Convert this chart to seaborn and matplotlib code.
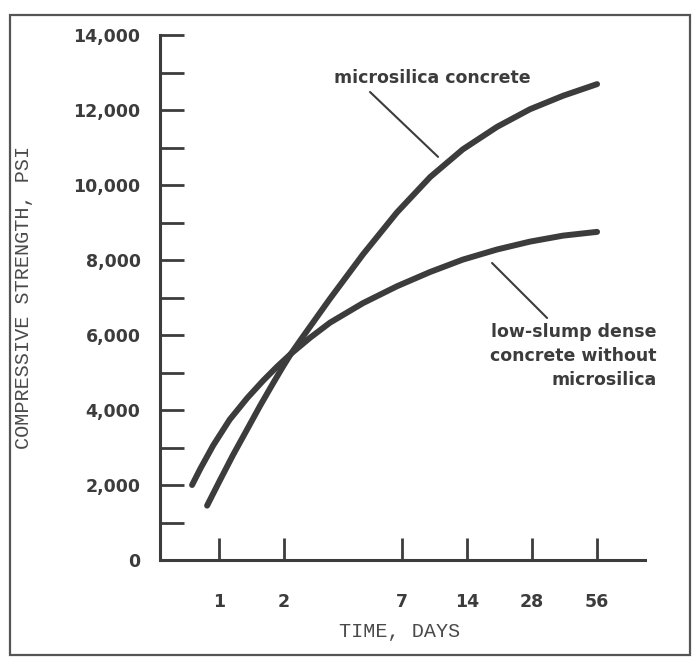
import matplotlib
matplotlib.use("Agg")
import matplotlib.pyplot as plt
from matplotlib.patches import Rectangle
from matplotlib.ticker import FixedLocator, NullLocator, MultipleLocator
import seaborn as sns
import pandas as pd

# ---- data (days, psi) ----
micro_days = [0.88, 1.01, 1.16, 1.35, 1.55, 1.78, 1.98, 2.15, 2.37, 2.64, 3.26,
              4.63, 6.65, 9.46, 13.4, 19.3, 27.4, 39.0, 56]
micro_psi = [1450, 2130, 2800, 3490, 4120, 4720, 5170, 5500, 5850, 6230, 6970,
             8150, 9270, 10210, 10950, 11550, 12020, 12380, 12690]

plain_days = [0.75, 0.82, 0.94, 1.12, 1.35, 1.60, 1.85, 2.15, 2.64, 3.26,
              4.63, 6.65, 9.46, 13.4, 19.3, 27.4, 39.0, 56]
plain_psi = [2000, 2440, 3060, 3745, 4320, 4785, 5150, 5500, 5930, 6330,
             6850, 7300, 7680, 8010, 8280, 8490, 8650, 8750]

x_ticks = [1, 2, 7, 14, 28, 56]
x_tick_labels = ["1", "2", "7", "14", "28", "56"]
y_ticks = [0, 2000, 4000, 6000, 8000, 10000, 12000, 14000]
y_tick_labels = ["0", "2,000", "4,000", "6,000", "8,000", "10,000", "12,000", "14,000"]

label_micro = "microsilica concrete"
label_plain = "low-slump dense\nconcrete without\nmicrosilica"

df = pd.concat([
    pd.DataFrame({"days": micro_days, "psi": micro_psi, "series": label_micro}),
    pd.DataFrame({"days": plain_days, "psi": plain_psi, "series": label_plain}),
])

sns.set_theme(style="white")
plt.rcParams["font.family"] = ["DejaVu Sans"]

ink = "#3c3c3c"
fig = plt.figure(figsize=(6.99, 6.64), dpi=100)
fig.patch.set_facecolor("white")
ax = fig.add_axes([160/699, 1-560/664, (645-160)/699, (560-35)/664])
ax.set_facecolor("white")

sns.lineplot(data=df, x="days", y="psi", hue="series",
             palette={label_micro: ink, label_plain: ink},
             legend=False, ax=ax, linewidth=4.3, sort=True,
             solid_capstyle="round", solid_joinstyle="round")

ax.set_xscale("log", base=2)
ax.set_xlim(0.533, 93.3)
ax.set_ylim(0, 14000)

ax.xaxis.set_major_locator(FixedLocator(x_ticks))
ax.xaxis.set_minor_locator(NullLocator())
ax.set_xticklabels(x_tick_labels)
ax.set_yticks(y_ticks)
ax.set_yticklabels(y_tick_labels)
ax.yaxis.set_minor_locator(MultipleLocator(1000))

for s in ["top", "right"]:
    ax.spines[s].set_visible(False)
for s in ["left", "bottom"]:
    ax.spines[s].set_color(ink)
    ax.spines[s].set_linewidth(2.2)

ax.tick_params(axis="y", which="both", direction="in", length=17, width=2.0,
               color=ink, left=True, pad=14, labelsize=12.5, labelcolor=ink)
ax.tick_params(axis="x", which="major", direction="in", length=16, width=2.0,
               color=ink, bottom=True, pad=24, labelsize=12.5, labelcolor=ink)
for lab in ax.get_xticklabels() + ax.get_yticklabels():
    lab.set_fontweight("bold")

ax.set_xlabel("TIME, DAYS", family=["Liberation Mono", "DejaVu Sans Mono"],
              fontsize=14.5, color="#4a4a4a")
ax.set_ylabel("COMPRESSIVE STRENGTH, PSI", family=["Liberation Mono", "DejaVu Sans Mono"],
              fontsize=14.5, color="#4a4a4a")
ax.xaxis.set_label_coords(0.495, -0.118)
ax.yaxis.set_label_coords(-0.262, 0.5)

# annotations
ax.annotate(label_micro, xy=(10.3, 10750), xytext=(9.66, 12850),
            ha="center", va="center", fontsize=12.5, fontweight="bold", color=ink,
            annotation_clip=False)
ax.plot([4.99, 10.3], [12480, 10750], color=ink, lw=1.5)
ax.annotate(label_plain, xy=(32.9, 6450), xytext=(106, 5440),
            ha="right", va="center", multialignment="right", fontsize=12.5,
            fontweight="bold", color=ink, linespacing=1.45, annotation_clip=False)
ax.plot([18.3, 32.9], [7920, 6453], color=ink, lw=1.5)

# scanned-page frame
fig.add_artist(Rectangle((10/699, 1-655/664), (690-10)/699, (655-15)/664,
                         transform=fig.transFigure, fill=False, ec="#555555", lw=1.6))

fig.savefig("out.png", dpi=100, facecolor="white")
